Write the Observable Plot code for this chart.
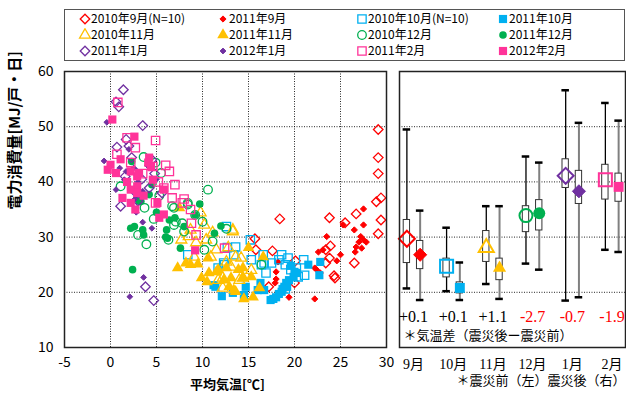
<!DOCTYPE html>
<html><head><meta charset="utf-8">
<script src="https://cdn.jsdelivr.net/npm/d3@7"></script>
<script src="https://cdn.jsdelivr.net/npm/@observablehq/plot@0.6"></script>
<style>
body{margin:0;background:#fff;}
#wrap{position:relative;width:626px;height:394px;overflow:hidden;font-family:"Noto Sans CJK JP",sans-serif;background:#fff;}
#wrap svg.layer{position:absolute;left:0;top:0;}
#legend{position:absolute;left:64px;top:9px;width:561px;height:52px;border:1px solid #555;box-sizing:border-box;}
.li{position:absolute;font-size:12px;line-height:14px;white-space:nowrap;color:#000;}
.ls{position:absolute;}
</style>
</head><body><div id="wrap"><div id="legend"></div></div>
<script>
// ---------- data: [平均気温, 電力消費量] ----------
const sep2010 = [[29.1,49.5],[29.1,44.4],[29.1,41.5],[29.4,37.1],[28.9,36.4],[29.4,33.1],[29.1,30.6],[26.7,34.2],[26.5,25.3],[25.5,32.6],[23.8,33.5],[23.9,28.4],[23.4,27.7],[23.8,26.2],[23.4,25.3],[24.3,23.0],[18.4,33.3],[15.7,29.7],[15.8,27.7],[17.6,27.5],[20.1,25.7],[24.4,22.6],[17.2,21.0],[20.0,21.7]];
const sep2011 = [[27.5,35.1],[27.5,32.2],[26.5,31.3],[27.2,30.1],[27.5,29.5],[27.8,29.1],[27.0,29.1],[26.7,28.2],[27.3,28.0],[26.6,27.3],[25.3,32.2],[25.0,26.8],[24.6,25.7],[23.5,30.1],[22.6,27.3],[23.1,27.7],[22.2,24.4],[22.4,24.1],[22.8,23.5],[22.2,18.8],[19.4,19.1],[18.2,25.5],[18.0,23.7],[18.0,22.4],[17.9,21.7]];
const oct2010 = [[12.6,31.9],[15.2,29.5],[13.6,28.2],[12.7,28.1],[13.4,26.8],[16.6,26.8],[18.6,26.8],[18.3,25.9],[19.3,26.2],[20.2,24.4],[21.0,25.9],[21.1,23.1],[20.4,22.8],[16.9,23.5],[16.4,25.0],[17.5,25.3],[12.3,25.3],[11.7,24.4],[8.4,26.8],[15.3,25.9],[16.7,25.3],[12.4,25.0],[19.6,24.1],[19.0,25.0],[19.0,20.6]];
const oct2011 = [[11.4,21.0],[12.1,19.3],[11.2,21.3],[13.3,19.9],[14.5,19.5],[14.7,21.0],[16.0,20.4],[16.3,21.7],[17.4,18.6],[18.0,19.1],[18.6,20.1],[18.9,21.0],[19.1,21.7],[19.4,22.2],[19.9,22.8],[20.2,23.5],[19.6,24.8],[21.5,25.0],[22.7,23.1],[22.8,25.5],[16.7,20.4],[20.0,23.7],[19.2,21.0],[17.7,18.8],[18.3,19.7],[18.7,20.6]];
const nov2010 = [[13.3,31.0],[12.8,28.1],[11.1,30.8],[8.5,30.1],[9.3,29.0],[10.9,26.4],[13.6,26.4],[14.2,26.2],[15.3,24.0],[13.1,24.6],[12.2,22.6],[14.4,22.6],[9.1,26.4],[9.8,34.4],[8.7,31.3],[13.3,31.3],[11.7,22.2],[14.0,22.2],[12.2,20.8],[10.4,29.5],[11.5,27.7],[10.2,32.2],[12.6,25.5],[7.7,29.5]];
const nov2011 = [[7.3,24.4],[8.2,25.3],[9.5,25.1],[9.9,22.6],[10.6,26.2],[11.7,24.1],[12.3,22.2],[14.4,24.4],[14.4,22.6],[13.6,20.1],[14.5,18.8],[15.5,19.1],[16.2,20.8],[16.6,26.4],[15.0,28.1],[12.9,21.0],[10.7,23.5],[13.4,20.4],[11.5,23.7],[15.3,22.8],[10.5,21.9],[13.1,22.6],[8.7,25.0],[13.9,24.1],[12.6,24.4],[7.5,35.3]];
const dec2010 = [[1.1,39.2],[3.7,35.3],[3.0,30.4],[3.9,28.7],[4.7,33.3],[5.5,41.6],[4.9,43.5],[3.6,44.5],[6.9,35.3],[7.1,32.8],[6.3,29.5],[8.4,35.9],[10.6,38.6],[6.7,35.6],[8.4,36.2],[7.8,32.5],[10.0,32.8],[11.1,29.2],[10.2,27.7],[6.9,32.2],[8.0,31.0],[12.6,31.5],[16.4,25.0],[5.3,37.5],[9.2,34.0]];
const dec2011 = [[2.4,24.1],[2.2,31.6],[2.6,31.9],[3.5,31.3],[3.1,36.5],[2.3,43.7],[3.6,30.4],[6.1,31.3],[6.0,30.0],[7.6,28.0],[6.4,33.1],[9.7,36.0],[6.2,29.8],[8.0,31.9],[11.3,30.7],[4.2,37.7],[3.3,36.5],[5.0,34.5],[4.5,39.5],[9.2,34.0],[7.0,33.5],[12.0,32.0]];
const jan2011 = [[1.4,56.7],[0.6,54.5],[0.9,53.6],[3.5,50.2],[1.7,47.7],[2.0,46.5],[0.7,46.3],[2.3,44.4],[4.2,38.9],[1.1,35.6],[3.8,21.0],[4.7,18.5],[2.6,42.0],[3.4,40.5],[4.8,41.5],[5.6,38.0],[2.8,38.0],[4.5,44.0],[3.0,36.5],[1.6,41.0]];
const jan2012 = [[-0.4,50.8],[-0.7,43.8],[0.6,38.6],[2.0,45.9],[3.6,22.7],[2.1,19.2],[4.5,31.6],[3.5,32.7],[3.5,38.3],[1.7,41.9],[1.5,40.4],[2.5,42.5],[3.0,40.0],[2.6,36.8],[4.0,43.0],[1.0,42.5],[5.0,40.5],[2.8,34.5]];
const feb2011 = [[0.8,54.4],[4.9,47.5],[2.7,46.2],[1.8,48.0],[0.7,45.0],[6.0,43.0],[6.4,41.9],[5.8,38.9],[6.7,37.1],[4.6,42.8],[4.9,36.2],[7.8,36.2],[8.7,35.0],[8.8,32.5],[9.3,30.4],[12.4,28.0],[3.5,41.5],[7.0,39.5],[5.2,40.0],[8.0,36.9],[2.2,43.5]];
const feb2012 = [[0.2,51.3],[2.6,48.2],[1.1,44.1],[0.0,43.1],[-0.3,42.2],[0.6,41.6],[4.2,44.4],[4.4,42.8],[2.2,41.9],[2.9,41.0],[4.6,40.4],[2.9,39.2],[2.2,38.6],[3.1,41.6],[4.1,43.5],[2.9,38.0],[1.3,37.1],[2.2,36.2],[2.7,35.0],[5.1,36.2],[5.3,33.5],[5.8,34.1],[5.8,38.6],[9.2,27.6],[1.8,40.0],[3.6,37.5]];

const seriesNames = ["2010年9月(N=10)","2011年9月","2010年10月(N=10)","2011年10月","2010年11月","2011年11月","2010年12月","2011年12月","2011年1月","2012年1月","2011年2月","2012年2月"];
const seriesData = [sep2010, sep2011, oct2010, oct2011, nov2010, nov2011, dec2010, dec2011, jan2011, jan2012, feb2011, feb2012];

// box-plot statistics (right panel)
const months = ["9月","10月","11月","12月","1月","2月"];
const beforeHi   = [49.5, 31.7, 35.6, 44.6, 56.6, 54.3];
const beforeQ3   = [33.1, 26.1, 31.1, 35.6, 44.1, 43.1];
const beforeMean = [29.7, 24.7, 28.1, 33.9, 41.1, 40.4];
const beforeQ1   = [25.3, 22.7, 25.5, 30.9, 38.9, 36.8];
const beforeLo   = [20.7, 20.2, 21.5, 25.2, 18.5, 27.7];
const afterHi    = [34.8, 25.4, 35.6, 43.5, 50.7, 51.1];
const afterQ3    = [29.3, 21.8, 26.1, 36.7, 42.0, 41.5];
const afterMean  = [26.8, 20.8, 24.4, 34.3, 38.3, 39.1];
const afterQ1    = [24.2, 19.8, 22.2, 31.2, 36.0, 36.4];
const afterLo    = [18.6, 18.6, 18.8, 24.1, 19.1, 27.3];
const tempDiff   = [0.1, 0.1, 1.1, -2.7, -0.7, -1.9];

const xTicks = [-5, 0, 5, 10, 15, 20, 25, 30];
const yTicks = [10, 20, 30, 40, 50, 60];
const xGrid = [0, 5, 10, 15, 20, 25];
const yGrid = [20, 30, 40, 50];

// ---------- styles ----------
const RED = "#FF0000", BLUE = "#00B0F0", GOLD = "#FFC000", GREEN = "#00B050", PURPLE = "#7030A0", PINK = "#FF3399";
const styles = [
  {color: RED, symbol: "diamond2", filled: false, r: 4.3, R: 7.2},
  {color: RED, symbol: "diamond2", filled: true, r: 2.8, R: 5.9},
  {color: BLUE, symbol: "square2", filled: false, r: 5.3, R: 8.3},
  {color: BLUE, symbol: "square", filled: true, r: 4.6, R: 5.6},
  {color: GOLD, symbol: "triangle2", filled: false, r: 5.2, R: 7.2},
  {color: GOLD, symbol: "triangle", filled: true, r: 4.3, R: 4.9},
  {color: GREEN, symbol: "circle", filled: false, r: 4.3, R: 6.5},
  {color: GREEN, symbol: "circle", filled: true, r: 3.8, R: 6.0},
  {color: PURPLE, symbol: "diamond2", filled: false, r: 4.3, R: 7.2},
  {color: PURPLE, symbol: "diamond2", filled: true, r: 2.6, R: 5.9},
  {color: PINK, symbol: "square2", filled: false, r: 5.3, R: 8.3},
  {color: PINK, symbol: "square", filled: true, r: 4.6, R: 5.6}
];

function dotOpts(s, r, sw) {
  return {
    symbol: s.symbol, r,
    fill: s.filled ? s.color : "none",
    stroke: s.color,
    strokeWidth: s.filled ? (s.symbol === "diamond2" ? 1 : 0) : sw
  };
}

const wrap = document.getElementById("wrap");
const fontStyle = {background: "transparent", fontFamily: "'Noto Sans CJK JP', sans-serif", overflow: "visible"};

// ---------- left scatter ----------
const scatterMarks = seriesData.map((data, k) =>
  Plot.dot(data, {x: d => d[0], y: d => d[1], ...dotOpts(styles[k], styles[k].r, 1.3)})
);

const left = Plot.plot({
  width: 626, height: 394,
  marginLeft: 64, marginRight: 240, marginTop: 71, marginBottom: 47,
  style: {...fontStyle, fontSize: "14px"},
  x: {domain: [-5, 30], ticks: xTicks, tickSize: 0, tickPadding: 10, tickFormat: d => String(d), label: null},
  y: {domain: [10, 60], ticks: yTicks, tickSize: 0, tickPadding: 11, tickFormat: d => String(d), label: null},
  marks: [
    Plot.ruleX(xGrid, {stroke: "#000", strokeDasharray: "1,1.5", strokeWidth: 1, strokeOpacity: 0.85}),
    Plot.ruleY(yGrid, {stroke: "#000", strokeDasharray: "1,1.5", strokeWidth: 1, strokeOpacity: 0.85}),
    ...scatterMarks,
    Plot.frame({stroke: "#222", strokeWidth: 1.5}),
    Plot.text(["電力消費量[MJ/戸・日]"], {text: d => d, frameAnchor: "left", rotate: -90, dx: -49, fontSize: 15, fontWeight: "bold", fill: "#000"}),
    Plot.text(["平均気温[℃]"], {text: d => d, frameAnchor: "bottom", lineAnchor: "bottom", dy: 41, dx: 2, fontSize: 13, fontWeight: "bold", fill: "#000"})
  ]
});
left.classList.add("layer");
wrap.appendChild(left);

// ---------- right box plots ----------
const OFF = 0.167, BOXH = 0.08, CAPH = 0.095;
const boxes = [];
months.forEach((m, i) => {
  boxes.push({i, k: 2 * i, after: false, x: i - OFF, hi: beforeHi[i], q3: beforeQ3[i], mean: beforeMean[i], q1: beforeQ1[i], lo: beforeLo[i]});
  boxes.push({i, k: 2 * i + 1, after: true, x: i + OFF, hi: afterHi[i], q3: afterQ3[i], mean: afterMean[i], q1: afterQ1[i], lo: afterLo[i]});
});
const diffs = months.map((m, i) => ({i, v: tempDiff[i], label: (tempDiff[i] >= 0 ? "+" : "-") + Math.abs(tempDiff[i]).toFixed(1)}));

const markerMarks = boxes.map(b => {
  const s = styles[b.k];
  return Plot.dot([b], {x: "x", y: "mean", ...dotOpts(s, s.R, 2)});
});

const serif = "'Liberation Serif', 'Noto Sans CJK JP', serif";
const right = Plot.plot({
  width: 626, height: 394,
  marginLeft: 399, marginRight: 1, marginTop: 71, marginBottom: 47,
  style: {...fontStyle, fontSize: "14px"},
  x: {domain: [-0.353, 5.34], axis: null},
  y: {domain: [10, 60], axis: null},
  marks: [
    Plot.ruleY(yGrid, {stroke: "#000", strokeDasharray: "1,1.5", strokeWidth: 1, strokeOpacity: 0.85}),
    Plot.ruleX(boxes.filter(b => !b.after), {x: "x", y1: "lo", y2: "hi", stroke: "#000", strokeWidth: 1.3}),
    Plot.ruleX(boxes.filter(b => b.after), {x: "x", y1: "lo", y2: "hi", stroke: "#808080", strokeWidth: 2}),
    Plot.ruleY(boxes, {y: "hi", x1: d => d.x - CAPH, x2: d => d.x + CAPH, stroke: "#000", strokeWidth: 2.5}),
    Plot.ruleY(boxes, {y: "lo", x1: d => d.x - CAPH, x2: d => d.x + CAPH, stroke: "#000", strokeWidth: 2.5}),
    Plot.rect(boxes, {x1: d => d.x - BOXH, x2: d => d.x + BOXH, y1: "q1", y2: "q3", fill: "#fff", stroke: "#333", strokeWidth: 1}),
    ...markerMarks,
    Plot.frame({stroke: "#222", strokeWidth: 1.5}),
    Plot.text(diffs.filter(d => d.v >= 0), {x: "i", text: "label", frameAnchor: "bottom", dy: -26, fontSize: 16, fontFamily: serif, fill: "#000"}),
    Plot.text(diffs.filter(d => d.v < 0), {x: "i", text: "label", frameAnchor: "bottom", dy: -26, fontSize: 16, fontFamily: serif, fill: "#FF0000"}),
    Plot.text(["＊気温差（震災後ー震災前）"], {text: d => d, frameAnchor: "bottom-left", textAnchor: "start", dx: 4, dy: -8, fontSize: 13, fontFamily: serif, fill: "#000"}),
    Plot.text(months, {x: (d, i) => i, text: d => d, frameAnchor: "bottom", dy: 21, fontSize: 14, fontFamily: serif, fill: "#000"}),
    Plot.text(["＊震災前（左）震災後（右）"], {text: d => d, frameAnchor: "bottom-right", textAnchor: "end", dx: 0, dy: 37, fontSize: 13, fontFamily: serif, fill: "#000"})
  ]
});
right.classList.add("layer");
wrap.appendChild(right);

// ---------- legend ----------
const legend = document.getElementById("legend");
const symMap = {diamond2: d3.symbolDiamond2, square2: d3.symbolSquare2, triangle2: d3.symbolTriangle2, circle: d3.symbolCircle, square: d3.symbolSquare, triangle: d3.symbolTriangle};
const colX = [20, 158, 297, 438];
const rowY = [9, 25, 41];
seriesNames.forEach((name, k) => {
  const s = styles[k];
  const row = Math.floor(k / 4), col = k % 4;
  const svg = d3.create("svg").attr("width", 14).attr("height", 14).attr("class", "ls")
    .style("left", (colX[col] - 7) + "px").style("top", (rowY[row] - 7) + "px");
  svg.append("path")
    .attr("transform", "translate(7,7)")
    .attr("d", d3.symbol(symMap[s.symbol], Math.PI * s.r * s.r)())
    .attr("fill", s.filled ? s.color : "none")
    .attr("stroke", s.color)
    .attr("stroke-width", s.filled ? (s.symbol === "diamond2" ? 1 : 0) : 1.3);
  legend.appendChild(svg.node());
  const t = document.createElement("div");
  t.className = "li";
  t.textContent = name;
  t.style.left = (colX[col] + 6) + "px";
  t.style.top = (rowY[row] - 8) + "px";
  legend.appendChild(t);
});
</script></body></html>
